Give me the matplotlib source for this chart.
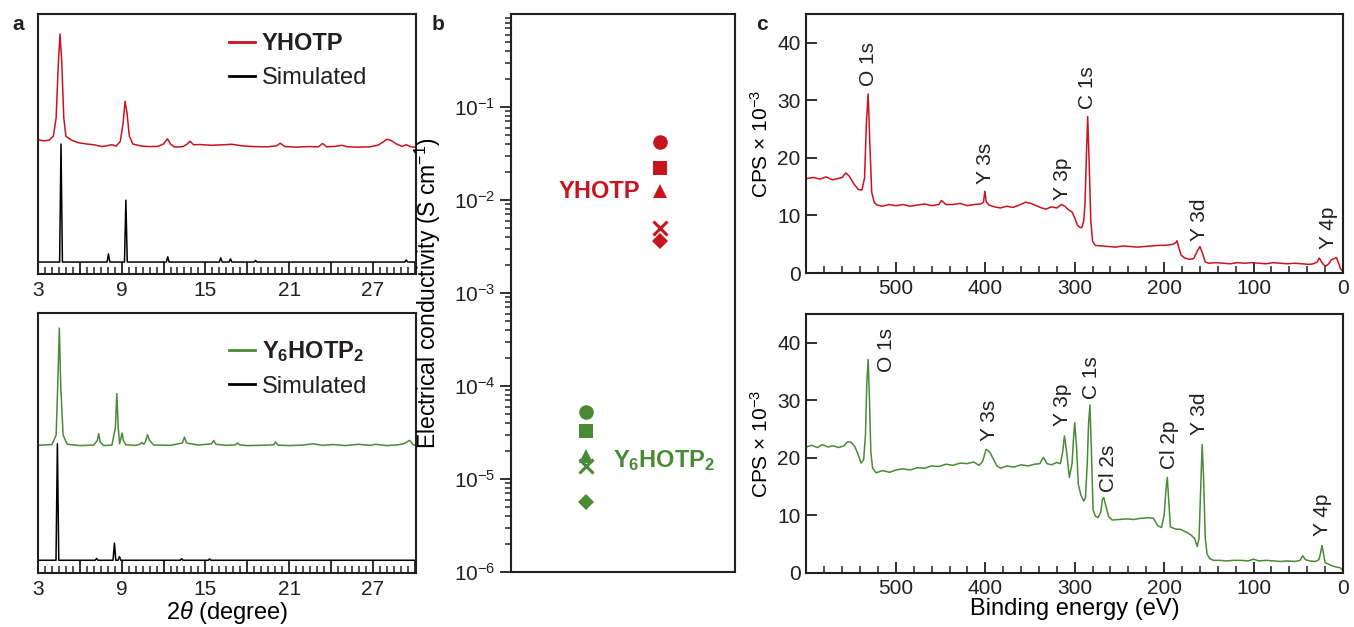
import numpy as np
import matplotlib
matplotlib.use("Agg")
from matplotlib import pyplot as plt
from matplotlib.ticker import MultipleLocator, LogLocator, NullFormatter

W, H = 1354, 627
RED = "#c8141f"
GREEN = "#4a8a36"
INK = "#231f20"

# ---- panel a: PXRD (2theta in degree, normalised intensity) ----
yhotp_tt = [3.0, 3.4, 3.8, 4.1, 4.3, 4.45, 4.58, 4.7, 4.85, 5.0,
            5.4, 5.9, 6.5, 7.0, 7.6, 8.0, 8.3, 8.6, 8.9, 9.1,
            9.24, 9.38, 9.55, 9.8, 10.4, 11.0, 11.6, 12.0, 12.28, 12.5,
            12.8, 13.4, 13.7, 13.9, 14.15, 14.6, 15.4, 16.3, 16.9, 17.6,
            18.5, 19.4, 20.1, 20.37, 20.7, 21.5, 22.4, 23.1, 23.4, 23.7,
            24.3, 24.8, 25.2, 26.0, 26.8, 27.4, 27.8, 28.0, 28.3, 28.7,
            29.1, 29.4, 29.7, 30.1]
yhotp_int = [0.517, 0.512, 0.515, 0.53, 0.6, 0.8, 0.923, 0.82, 0.6, 0.53,
             0.515, 0.505, 0.5, 0.497, 0.49, 0.494, 0.497, 0.492, 0.51, 0.58,
             0.664, 0.62, 0.53, 0.5, 0.492, 0.49, 0.491, 0.5, 0.52, 0.5,
             0.488, 0.49, 0.5, 0.511, 0.497, 0.498, 0.495, 0.497, 0.499, 0.493,
             0.49, 0.489, 0.493, 0.503, 0.49, 0.488, 0.49, 0.489, 0.502, 0.489,
             0.491, 0.495, 0.489, 0.488, 0.489, 0.496, 0.51, 0.518, 0.514, 0.5,
             0.491, 0.497, 0.49, 0.487]

sim1_tt = [3.0, 4.55, 4.65, 4.75, 7.95, 8.05, 8.15, 9.2, 9.3, 9.4,
           12.2, 12.3, 12.4, 16.0, 16.1, 16.2, 16.7, 16.8, 16.9, 18.5,
           18.6, 18.7, 29.3, 29.4, 29.5, 30.1]
sim1_int = [0.046, 0.046, 0.5, 0.046, 0.046, 0.077, 0.046, 0.046, 0.284, 0.046,
            0.046, 0.066, 0.046, 0.046, 0.062, 0.046, 0.046, 0.058, 0.046, 0.046,
            0.052, 0.046, 0.046, 0.054, 0.046, 0.046]

y6_tt = [3.0, 4.0, 4.3, 4.43, 4.53, 4.63, 4.8, 5.1, 6.0, 7.0,
         7.25, 7.35, 7.45, 7.7, 8.3, 8.55, 8.65, 8.75, 8.85, 8.95,
         9.03, 9.12, 9.3, 10.0, 10.3, 10.44, 10.58, 10.7, 10.85, 11.0,
         11.3, 12.5, 13.35, 13.5, 13.65, 14.5, 15.45, 15.6, 15.75, 16.5,
         17.15, 17.3, 17.45, 18.0, 19.0, 19.9, 20.03, 20.2, 21.0, 22.0,
         22.7, 23.4, 24.2, 25.0, 26.0, 26.8, 27.2, 28.0, 28.8, 29.2,
         29.65, 29.9, 30.1]
y6_int = [0.491, 0.494, 0.53, 0.75, 0.942, 0.72, 0.53, 0.495, 0.49, 0.492,
          0.51, 0.536, 0.505, 0.49, 0.492, 0.56, 0.69, 0.56, 0.497, 0.52,
          0.538, 0.51, 0.493, 0.491, 0.495, 0.502, 0.495, 0.505, 0.532, 0.51,
          0.492, 0.491, 0.5, 0.523, 0.5, 0.492, 0.497, 0.51, 0.495, 0.491,
          0.493, 0.5, 0.493, 0.49, 0.491, 0.493, 0.504, 0.492, 0.49, 0.492,
          0.497, 0.491, 0.494, 0.49, 0.495, 0.491, 0.495, 0.49, 0.493, 0.497,
          0.51, 0.493, 0.491]

sim2_tt = [3.0, 4.29, 4.39, 4.49, 7.1, 7.2, 7.3, 8.38, 8.48, 8.58,
           8.74, 8.84, 8.94, 13.2, 13.3, 13.4, 15.2, 15.3, 15.4, 30.1]
sim2_int = [0.049, 0.049, 0.497, 0.049, 0.049, 0.056, 0.049, 0.049, 0.115, 0.049,
            0.049, 0.063, 0.049, 0.049, 0.055, 0.049, 0.049, 0.054, 0.049, 0.049]

# ---- panel b: electrical conductivity (S/cm) ----
samples = ["Y$_6$HOTP$_2$", "YHOTP"]
markers = ["o", "s", "^", "x", "D"]
sigma_y6 = [5.2e-5, 3.3e-5, 1.77e-5, 1.38e-5, 5.6e-6]
sigma_yhotp = [0.042, 0.0219, 0.0126, 0.0050, 0.0036]

# ---- panel c: XPS survey (binding energy eV, CPS x 1e-3) ----
be_top = [600, 592, 585, 578, 571, 565, 560, 556, 552, 547,
          542, 538, 535, 533, 531, 529, 527, 524, 521, 515,
          508, 500, 492, 484, 476, 468, 460, 452, 449, 444,
          436, 428, 420, 412, 405, 402, 400.5, 399, 396, 390,
          383, 376, 369, 362, 355, 349, 343, 337, 332, 326,
          320, 315, 311, 307, 303, 300, 297, 294, 292, 290,
          288.5, 287, 285.5, 284, 282, 280, 277, 270, 262, 254,
          246, 238, 230, 222, 214, 206, 200, 194, 190, 187,
          185.5, 184, 181, 177, 172, 167, 163, 160, 157, 154,
          150, 142, 134, 126, 118, 110, 102, 94, 86, 78,
          70, 62, 54, 46, 38, 33, 29, 26.5, 24, 21,
          19, 16, 13, 10, 7.5, 5, 3, 1, 0]
cps_top = [16.4, 16.6, 16.3, 16.7, 16.2, 16.4, 16.6, 17.4, 16.8, 15.5,
           14.5, 14.4, 16.5, 26.0, 31.1, 22.0, 14.0, 12.2, 11.8, 11.6,
           11.9, 11.7, 11.9, 11.6, 11.8, 12.0, 11.7, 11.9, 12.6, 11.9,
           11.9, 12.1, 11.7, 11.9, 12.0, 12.3, 14.2, 12.4, 11.8, 11.5,
           11.3, 11.6, 11.4, 11.8, 12.3, 12.1, 11.7, 11.3, 11.1, 11.5,
           11.3, 11.9, 11.6, 11.0, 10.6, 9.6, 8.3, 7.9, 7.9, 9.0,
           12.0, 20.0, 27.2, 20.0, 9.0, 5.5, 4.8, 4.7, 4.6, 4.5,
           4.7, 4.6, 4.5, 4.6, 4.7, 4.8, 4.8, 4.9, 5.0, 5.3,
           5.6, 4.6, 3.1, 2.6, 2.4, 2.5, 3.8, 4.6, 3.4, 1.9,
           1.7, 1.8, 1.7, 1.6, 1.8, 1.7, 1.8, 1.7, 1.6, 1.8,
           1.7, 1.6, 1.7, 1.6, 1.5, 1.6, 1.9, 2.6, 1.9, 1.3,
           1.2, 1.6, 2.3, 2.5, 2.7, 1.8, 0.8, 0.4, 0.3]

be_bot = [600, 594, 588, 582, 576, 570, 564, 558, 554, 550,
          546, 542, 539, 536, 534, 532.5, 531, 529.5, 528, 526,
          522, 515, 507, 500, 492, 484, 476, 468, 460, 452,
          444, 436, 428, 420, 413, 407, 403, 399, 395, 391,
          387, 383, 376, 368, 360, 352, 345, 339, 335, 331,
          326, 320, 316, 313.5, 311.5, 309, 306, 303, 301.5, 300,
          298, 296, 293, 290, 288, 286, 284.5, 283, 281.5, 279.5,
          277, 274, 271, 269, 267.5, 265, 262, 258, 250, 242,
          234, 226, 218, 212, 207, 203, 200, 198, 196.5, 195,
          193, 190, 186, 182, 178, 174, 170, 166, 163, 161,
          159, 157.5, 156, 154, 152, 149, 145, 138, 130, 122,
          114, 106, 100, 94, 86, 78, 70, 62, 54, 48,
          45, 42, 37, 31, 27, 25, 23.5, 22, 20, 17,
          13, 9, 6, 3, 1, 0]
cps_bot = [21.9, 22.2, 21.8, 22.3, 21.9, 22.1, 21.8, 22.1, 22.8, 22.7,
           22.0, 20.5, 19.1, 19.7, 24.0, 33.0, 37.1, 30.0, 21.0, 18.2,
           17.4, 17.8, 17.5, 17.9, 18.1, 17.9, 18.3, 18.2, 18.6, 18.5,
           18.9, 18.7, 19.1, 19.0, 19.3, 18.7, 19.4, 21.5, 21.0, 19.8,
           18.6, 18.2, 18.6, 18.4, 18.8, 18.6, 18.9, 19.0, 20.1, 19.0,
           18.8, 19.2, 19.0, 21.0, 23.8, 21.0, 16.6, 19.0, 23.0, 26.1,
           22.0, 15.4, 13.5, 12.5, 13.1, 19.0, 26.0, 29.2, 22.0, 11.0,
           9.9, 9.6, 10.5, 12.8, 13.1, 11.5, 9.8, 9.2, 9.3, 9.4,
           9.3, 9.5, 9.6, 9.5, 8.2, 7.9, 10.0, 14.5, 16.6, 13.0,
           8.0, 7.8, 7.6, 7.6, 7.3, 7.0, 6.6, 6.0, 4.6, 6.0,
           15.0, 22.3, 17.0, 6.0, 3.3, 2.5, 2.2, 2.2, 2.1, 2.2,
           2.2, 2.1, 2.4, 2.1, 2.2, 2.1, 2.0, 2.1, 2.0, 2.2,
           3.0, 2.3, 2.1, 2.0, 2.3, 3.5, 4.8, 3.5, 1.8, 1.6,
           1.3, 1.1, 1.0, 0.9, 0.6, 0.6]

peaks_top = [("O 1s", 531, 32.5), ("Y 3s", 400, 15.5), ("Y 3p", 314, 12.6),
             ("C 1s", 286, 28.5), ("Y 3d", 160, 5.6), ("Y 4p", 16, 4.2)]
peaks_bot = [("O 1s", 510, 35.0), ("Y 3s", 395, 23.0), ("Y 3p", 314, 25.5),
             ("C 1s", 281, 30.3), ("Cl 2s", 262, 14.0), ("Cl 2p", 194, 18.0),
             ("Y 3d", 160, 24.0), ("Y 4p", 23, 6.4)]


def rect(l, t, r, b):
  return [l / W, (H - b) / H, (r - l) / W, (b - t) / H]


def main():
  plt.rcParams.update({
    "font.family": ["Liberation Sans", "DejaVu Sans"],
    "mathtext.fontset": "custom",
    "mathtext.rm": "Liberation Sans",
    "mathtext.it": "Liberation Sans:italic",
    "mathtext.bf": "Liberation Sans:bold",
    "axes.linewidth": 1.5,
    "axes.edgecolor": INK,
    "text.color": INK,
    "xtick.color": INK,
    "ytick.color": INK,
    "font.size": 15,
  })
  fig = plt.figure(figsize=(W / 100, H / 100), dpi=100)

  # ---------- a ----------
  a_top = fig.add_axes(rect(38, 14, 416, 274))
  a_bot = fig.add_axes(rect(38, 313, 416, 573))
  a_top.plot(yhotp_tt, yhotp_int, color=RED, lw=1.1, label="YHOTP")
  a_top.plot(sim1_tt, sim1_int, color="black", lw=1.1, label="Simulated")
  a_bot.plot(y6_tt, y6_int, color=GREEN, lw=1.1, label=r"$\mathbf{Y_6HOTP_2}$")
  a_bot.plot(sim2_tt, sim2_int, color="black", lw=1.1, label="Simulated")
  for ax, top in [(a_top, 0.93), (a_bot, 0.9)]:
    ax.set_xlim(3, 30.1)
    ax.set_ylim(0, 1)
    ax.set_yticks([])
    ticks = np.arange(3, 31, 3)
    ax.set_xticks(ticks)
    ax.set_xticklabels([str(t) if (t - 3) % 6 == 0 else "" for t in ticks])
    ax.xaxis.set_minor_locator(MultipleLocator(0.5))
    ax.tick_params(axis="x", which="major", direction="in", length=9, width=1.3, labelsize=15, pad=5)
    ax.tick_params(axis="x", which="minor", direction="in", length=5, width=1.1)
    leg = ax.legend(loc="upper left", bbox_to_anchor=(0.505, top), frameon=False, fontsize=17,
                    borderpad=0, borderaxespad=0, handlelength=1.1, handletextpad=0.3,
                    labelspacing=0.5)
    for line in leg.get_lines():
      line.set_linewidth(2)
  a_top.get_legend().get_texts()[0].set_fontweight("bold")
  a_bot.set_xlabel(r"2$\theta$ (degree)", fontsize=17, labelpad=0)

  # ---------- b ----------
  b = fig.add_axes(rect(511, 14, 735, 572))
  for m, s1, s2 in zip(markers, sigma_y6, sigma_yhotp):
    if m == "x":
      kw = dict(ms=10, mew=2.2)
    elif m == "D":
      kw = dict(ms=8.5, mew=0)
    else:
      kw = dict(ms=10.5, mew=0)
    b.plot([1], [s1], marker=m, color=GREEN, ls="none", **kw)
    b.plot([2], [s2], marker=m, color=RED, ls="none", **kw)
  b.set_yscale("log")
  b.set_ylim(1e-6, 1)
  b.set_xlim(0, 3)
  b.set_xticks([])
  b.set_yticks([1e-6, 1e-5, 1e-4, 1e-3, 1e-2, 1e-1])
  b.yaxis.set_minor_locator(LogLocator(base=10, subs=np.arange(2, 10)))
  b.yaxis.set_minor_formatter(NullFormatter())
  b.tick_params(axis="y", which="major", direction="out", length=8, width=1.3, labelsize=15, pad=3)
  b.tick_params(axis="y", which="minor", direction="out", length=4.5, width=1.1)
  b.set_ylabel("Electrical conductivity (S cm$^{-1}$)", fontsize=16.5, labelpad=8)
  b.text(1.73, 0.0123, samples[1], color=RED, fontsize=17, fontweight="bold", ha="right", va="center")
  b.text(1.37, 1.56e-5, r"$\mathbf{Y_6HOTP_2}$", color=GREEN, fontsize=17, ha="left", va="center")

  # ---------- c ----------
  c_top = fig.add_axes(rect(806, 14, 1343, 273))
  c_bot = fig.add_axes(rect(806, 314, 1343, 573))
  c_top.plot(be_top, cps_top, color=RED, lw=1.1)
  c_bot.plot(be_bot, cps_bot, color=GREEN, lw=1.1)
  for ax, peaks in [(c_top, peaks_top), (c_bot, peaks_bot)]:
    ax.set_xlim(600.5, 0)
    ax.set_ylim(0, 45)
    ax.set_xticks(np.arange(0, 501, 100))
    ax.xaxis.set_minor_locator(MultipleLocator(20))
    ax.yaxis.set_major_locator(MultipleLocator(10))
    ax.tick_params(which="major", direction="in", length=8, width=1.3, labelsize=15, pad=4)
    ax.tick_params(which="minor", direction="in", length=5, width=1.1)
    ax.set_ylabel(r"CPS $\times$ 10$^{-3}$", fontsize=15, labelpad=4)
    for name, x, y in peaks:
      ax.text(x, y, name, rotation=90, ha="center", va="bottom", fontsize=15)
  c_bot.set_xlabel("Binding energy (eV)", fontsize=17, labelpad=0)

  for letter, x in [("a", 12), ("b", 432), ("c", 756)]:
    fig.text(x / W, 1 - 25 / H, letter, fontsize=15, fontweight="bold", va="center")

  fig.savefig("out.png", dpi=100)


if __name__ == "__main__":
  main()
